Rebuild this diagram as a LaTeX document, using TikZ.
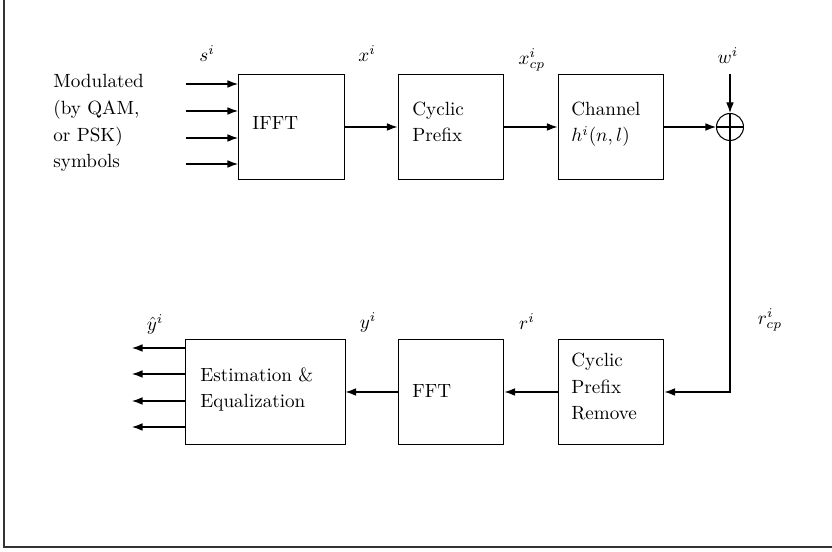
\documentclass[tikz,border=0pt]{standalone}
\usetikzlibrary{arrows.meta}
\begin{document}
\begin{tikzpicture}[x=0.523pt,y=-0.523pt,
  blk/.style={draw,line width=0.55pt,minimum width=55.4pt,minimum height=55.4pt,inner sep=0pt},
  txt/.style={font=\fontsize{10}{14}\selectfont,align=left,inner sep=0pt,anchor=base west},
  lbl/.style={inner sep=0pt,font=\fontsize{10}{12}\selectfont},
  arr/.style={line width=0.55pt,-{Latex[length=5.5pt,width=4pt]}},
  ln/.style={line width=0.55pt}]
\useasboundingbox (0,0) rectangle (832,552);
% frame
\draw[line width=0.9pt,black!80] (4,0) -- (4,547) -- (832,547);
% top row blocks
\node[blk] (ifft) at (291.5,127) {};
\node[blk] (cp) at (451,127) {};
\node[blk] (ch) at (611,127) {};
\node[draw,circle,line width=0.55pt,minimum size=14.1pt,inner sep=0pt] (sum) at (730,127) {};
\draw[ln] (sum.north) -- (sum.south) (sum.west) -- (sum.east);
% bottom row blocks
\node[blk] (cpr) at (611,392) {};
\node[blk] (fft) at (451,392) {};
\node[blk,minimum width=83.2pt] (est) at (265.5,392) {};
% texts (base anchor = baseline of last line)
\node[txt] (mod) at (53,168) {Modulated\\(by QAM,\\or PSK)\\symbols};
\node[txt] (tifft) at (252,130) {IFFT};
\node[txt] (tcp) at (412,142) {Cyclic\\Prefix};
\node[txt] (tch) at (571,142) {Channel\\$h^i(n,l)$};
\node[txt] (test) at (200,408) {Estimation \&\\Equalization};
\node[txt] (tfft) at (412,398) {FFT};
\node[txt] (tcpr) at (571,420) {Cyclic\\Prefix\\Remove};
% labels
\node[lbl] (ls) at (207,54) {$s^i$};
\node[lbl] (lx) at (367,54) {$x^i$};
\node[lbl] (lxcp) at (532,60) {$x^i_{cp}$};
\node[lbl] (lw) at (728,56) {$w^i$};
\node[lbl] (lyh) at (155,324) {$\hat{y}^i$};
\node[lbl] (ly) at (368,322) {$y^i$};
\node[lbl] (lr) at (527,322) {$r^i$};
\node[lbl] (lrcp) at (770,320) {$r^i_{cp}$};
% input arrows
\foreach \k/\yy in {1/84,2/111,3/138,4/164}{
  \coordinate (in\k) at (186,\yy);
  \draw[arr] (in\k) -- (in\k -| ifft.west);
}
% output arrows
\foreach \k/\yy in {1/348,2/374,3/401,4/427}{
  \coordinate (out\k) at (132,\yy);
  \draw[arr] (out\k -| est.west) -- (out\k);
}
% connectors
\draw[arr] (ifft.east) -- (cp.west);
\draw[arr] (cp.east) -- (ch.west);
\draw[arr] (ch.east) -- (sum.west);
\coordinate (wtop) at (730,74);
\draw[arr] (wtop) -- (sum.north);
\draw[arr] (sum.south) |- (cpr.east);
\draw[arr] (cpr.west) -- (fft.east);
\draw[arr] (fft.west) -- (est.east);
\end{tikzpicture}
\end{document}
